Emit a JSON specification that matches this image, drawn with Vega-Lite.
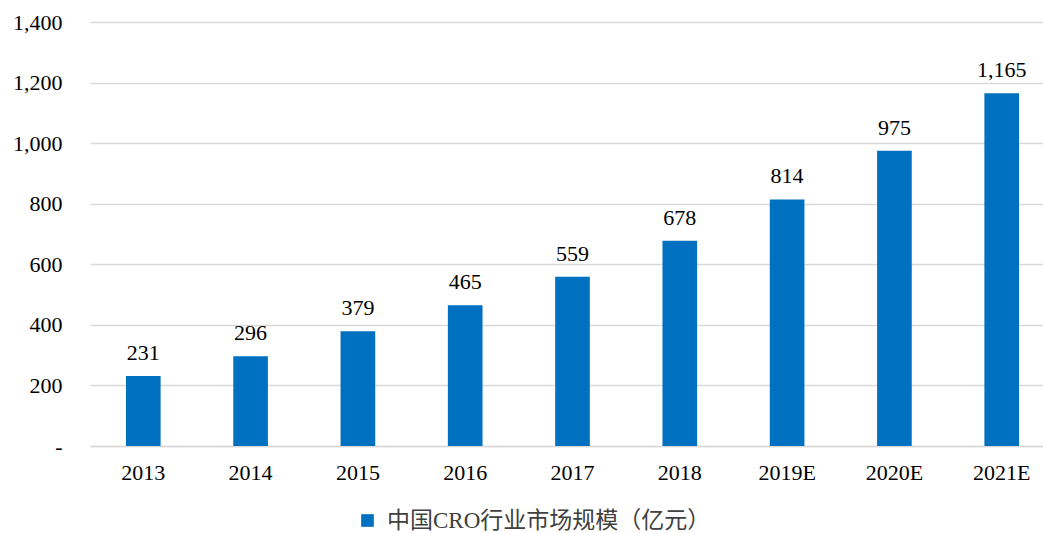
{
  "$schema": "https://vega.github.io/schema/vega-lite/v6.json",
  "autosize": {"type": "none"},
  "width": 953,
  "height": 424,
  "padding": {"left": 90, "top": 22, "right": 0, "bottom": 87},
  "background": "white",
  "config": {
    "view": {"stroke": null},
    "font": "Liberation Serif"
  },
  "data": {
    "values": [
      {"year": "2013", "value": 231, "series": "中国CRO行业市场规模（亿元）"},
      {"year": "2014", "value": 296, "series": "中国CRO行业市场规模（亿元）"},
      {"year": "2015", "value": 379, "series": "中国CRO行业市场规模（亿元）"},
      {"year": "2016", "value": 465, "series": "中国CRO行业市场规模（亿元）"},
      {"year": "2017", "value": 559, "series": "中国CRO行业市场规模（亿元）"},
      {"year": "2018", "value": 678, "series": "中国CRO行业市场规模（亿元）"},
      {"year": "2019E", "value": 814, "series": "中国CRO行业市场规模（亿元）"},
      {"year": "2020E", "value": 975, "series": "中国CRO行业市场规模（亿元）"},
      {"year": "2021E", "value": 1165, "series": "中国CRO行业市场规模（亿元）"}
    ]
  },
  "encoding": {
    "x": {
      "field": "year",
      "type": "ordinal",
      "sort": null,
      "scale": {"paddingInner": 0.677, "paddingOuter": 0.335, "range": [0, 965]},
      "axis": {
        "title": null,
        "labelAngle": 0,
        "labelFont": "Liberation Serif",
        "labelFontSize": 22,
        "labelColor": "#000000",
        "labelPadding": 16,
        "ticks": false,
        "domainColor": "#d9d9d9",
        "domainWidth": 1.5
      }
    },
    "y": {
      "field": "value",
      "type": "quantitative",
      "scale": {"domain": [0, 1400]},
      "axis": {
        "title": null,
        "values": [0, 200, 400, 600, 800, 1000, 1200, 1400],
        "labelExpr": "datum.value == 0 ? '-' : format(datum.value, ',')",
        "labelFont": "Liberation Serif",
        "labelFontSize": 22,
        "labelColor": "#000000",
        "labelPadding": 28,
        "ticks": false,
        "domain": false,
        "gridColor": "#d9d9d9",
        "gridWidth": 1.5
      }
    }
  },
  "layer": [
    {
      "mark": {"type": "bar"},
      "encoding": {
        "color": {
          "field": "series",
          "type": "nominal",
          "scale": {"range": ["#0070C0"]},
          "legend": {
            "title": null,
            "orient": "none",
            "legendX": 266,
            "legendY": 487,
            "symbolType": "square",
            "symbolSize": 160,
            "symbolOpacity": 1,
            "labelOffset": 8,
            "labelFont": "Liberation Serif, Noto Sans CJK SC",
            "labelFontSize": 23,
            "labelColor": "#404040",
            "labelLimit": 600
          }
        }
      }
    },
    {
      "mark": {"type": "text", "baseline": "alphabetic", "dy": -16, "fontSize": 22, "font": "Liberation Serif", "color": "#000000"},
      "encoding": {
        "text": {"field": "value", "type": "quantitative", "format": ","}
      }
    }
  ]
}
